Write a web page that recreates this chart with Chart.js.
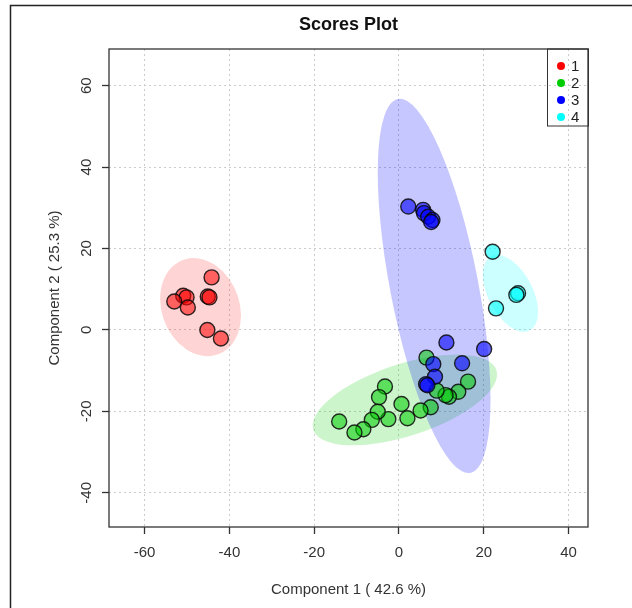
<!DOCTYPE html>
<html lang="en">
<head>
<meta charset="UTF-8" />
<title>Scores Plot</title>
<script src="https://cdn.jsdelivr.net/npm/chart.js@4"></script>
<style>
  body { margin: 0; background: #fff; }
  .wrap { width: 632px; height: 608px; position: relative; }
</style>
</head>
<body>
<div class="wrap"><canvas id="scores"></canvas></div>
<script>
// groups and scores
const groupNames = ["1", "2", "3", "4"];
const g1x = [-44.2, -50.9, -50.1, -53.0, -49.8, -45.1, -44.7, -45.2, -42.0];
const g1y = [12.9, 8.4, 8.0, 7.0, 5.5, 8.2, 8.0, 0.0, -2.1];
const g2x = [6.5, 16.3, 14.0, 11.8, 11.0, 8.9, 7.5, 5.1, 0.6, 2.0, -2.5, -3.3, -4.7, -5.0, -6.4, -8.4, -10.5, -14.1];
const g2y = [-6.8, -12.7, -15.2, -16.4, -16.0, -14.9, -19.0, -19.8, -18.2, -21.7, -21.9, -13.9, -16.5, -20.1, -22.1, -24.4, -25.2, -22.5];
const g3x = [2.2, 5.7, 5.9, 6.9, 7.9, 7.6, 11.2, 20.1, 14.9, 8.1, 8.5, 6.4, 6.7];
const g3y = [30.3, 29.5, 28.7, 27.8, 27.0, 26.5, -3.1, -4.7, -8.2, -8.4, -11.5, -13.3, -13.6];
const g4x = [22.1, 28.1, 27.7, 22.9];
const g4y = [19.2, 9.0, 8.6, 5.3];

// confidence ellipses (data units): centre, semi-axes, rotation in degrees
const ellCx = [-46.8, 1.4, 8.3, 26.3];
const ellCy = [5.6, -17.2, 10.8, 9.0];
const ellA = [12.3, 22.8, 46.7, 10.2];
const ellB = [9.2, 8.8, 10.4, 5.3];
const ellAngle = [-72, 19, -79.5, -64];

const xTicks = [-60, -40, -20, 0, 20, 40];
const yTicks = [-40, -20, 0, 20, 40, 60];

const solid = ["#ff0000", "#00cd00", "#0000ff", "#00ffff"];
const pointFill = ["rgba(255,0,0,0.55)", "rgba(0,205,0,0.55)", "rgba(0,0,255,0.6)", "rgba(0,255,255,0.6)"];
const ellFill = ["rgba(255,0,0,0.17)", "rgba(0,205,0,0.2)", "rgba(0,0,255,0.22)", "rgba(0,255,255,0.2)"];

const FONT = "'Liberation Sans', Arial, sans-serif";
const xs = [g1x, g2x, g3x, g4x];
const ys = [g1y, g2y, g3y, g4y];

const decor = {
  id: "decor",
  beforeDatasetsDraw(chart) {
    const { ctx, chartArea: a, scales: { x, y } } = chart;
    const sx = x.getPixelForValue(1) - x.getPixelForValue(0);
    const sy = y.getPixelForValue(0) - y.getPixelForValue(1);
    ctx.save();
    ctx.beginPath();
    ctx.rect(a.left, a.top, a.right - a.left, a.bottom - a.top);
    ctx.clip();
    ellCx.forEach((cx, i) => {
      ctx.save();
      ctx.translate(x.getPixelForValue(cx), y.getPixelForValue(ellCy[i]));
      ctx.scale(sx, -sy);
      ctx.rotate((ellAngle[i] * Math.PI) / 180);
      ctx.beginPath();
      ctx.ellipse(0, 0, ellA[i], ellB[i], 0, 0, Math.PI * 2);
      ctx.restore();
      ctx.fillStyle = ellFill[i];
      ctx.fill();
    });
    ctx.restore();
  },
  afterDraw(chart) {
    const { ctx, chartArea: a, scales: { y } } = chart;
    ctx.save();
    // outer frame (top and left edge)
    ctx.strokeStyle = "#222";
    ctx.lineWidth = 1.5;
    ctx.beginPath();
    ctx.moveTo(632, 5.5);
    ctx.lineTo(10.5, 5.5);
    ctx.lineTo(10.5, 608);
    ctx.stroke();
    // plot box
    ctx.strokeStyle = "#333";
    ctx.lineWidth = 1.3;
    ctx.strokeRect(a.left, a.top, a.right - a.left, a.bottom - a.top);
    // title
    ctx.fillStyle = "#111";
    ctx.textAlign = "center";
    ctx.textBaseline = "middle";
    ctx.font = "bold 18px " + FONT;
    ctx.fillText("Scores Plot", (a.left + a.right) / 2, 25);
    // axis titles
    ctx.fillStyle = "#333";
    ctx.font = "15px " + FONT;
    ctx.fillText("Component 1 ( 42.6 %)", (a.left + a.right) / 2, 590);
    ctx.save();
    ctx.translate(55, (a.top + a.bottom) / 2);
    ctx.rotate(-Math.PI / 2);
    ctx.fillText("Component 2 ( 25.3 %)", 0, 0);
    ctx.restore();
    // rotated y tick labels, as R draws them
    y.ticks.forEach((t) => {
      ctx.save();
      ctx.translate(87, y.getPixelForValue(t.value));
      ctx.rotate(-Math.PI / 2);
      ctx.fillText(String(t.value), 0, 0);
      ctx.restore();
    });
    // legend in the top right corner
    const lx = a.right - 41, ly = a.top;
    ctx.strokeStyle = "#333";
    ctx.lineWidth = 1;
    ctx.strokeRect(lx + 0.5, ly, 41, 77);
    ctx.font = "15px " + FONT;
    chart.data.datasets.forEach((ds, i) => {
      const yy = ly + 17 + i * 17;
      ctx.beginPath();
      ctx.arc(lx + 14, yy, 4, 0, Math.PI * 2);
      ctx.fillStyle = solid[i];
      ctx.fill();
      ctx.fillStyle = "#222";
      ctx.textAlign = "left";
      ctx.fillText(ds.label, lx + 24, yy + 1);
    });
    ctx.restore();
  },
};

const axisGrid = {
  color: "#cccccc",
  tickColor: "#333",
  tickBorderDash: [],
  tickLength: 7,
  tickWidth: 1.3,
};

new Chart(document.getElementById("scores"), {
  type: "scatter",
  data: {
    datasets: groupNames.map((name, i) => ({
      label: name,
      data: xs[i].map((v, j) => ({ x: v, y: ys[i][j] })),
      backgroundColor: pointFill[i],
      borderColor: "rgba(10,10,10,0.85)",
      borderWidth: 1.4,
      pointRadius: 7.5,
      order: 4 - i,
    })),
  },
  options: {
    responsive: true,
    maintainAspectRatio: false,
    animation: false,
    layout: { padding: { left: 0, top: 49, right: 44, bottom: 0 } },
    plugins: { legend: { display: false }, tooltip: { enabled: false } },
    scales: {
      x: {
        type: "linear",
        min: -68.4,
        max: 44.6,
        afterBuildTicks: (s) => { s.ticks = xTicks.map((v) => ({ value: v })); },
        afterFit: (s) => { s.height = 81; },
        border: { display: false, dash: [2, 3] },
        grid: axisGrid,
        ticks: { color: "#333", font: { family: FONT, size: 15 }, padding: 10, maxRotation: 0 },
      },
      y: {
        type: "linear",
        min: -48.4,
        max: 69,
        afterBuildTicks: (s) => { s.ticks = yTicks.map((v) => ({ value: v })); },
        afterFit: (s) => { s.width = 109; },
        border: { display: false, dash: [2, 3] },
        grid: axisGrid,
        ticks: { display: false },
      },
    },
  },
  plugins: [decor],
});
</script>
</body>
</html>
